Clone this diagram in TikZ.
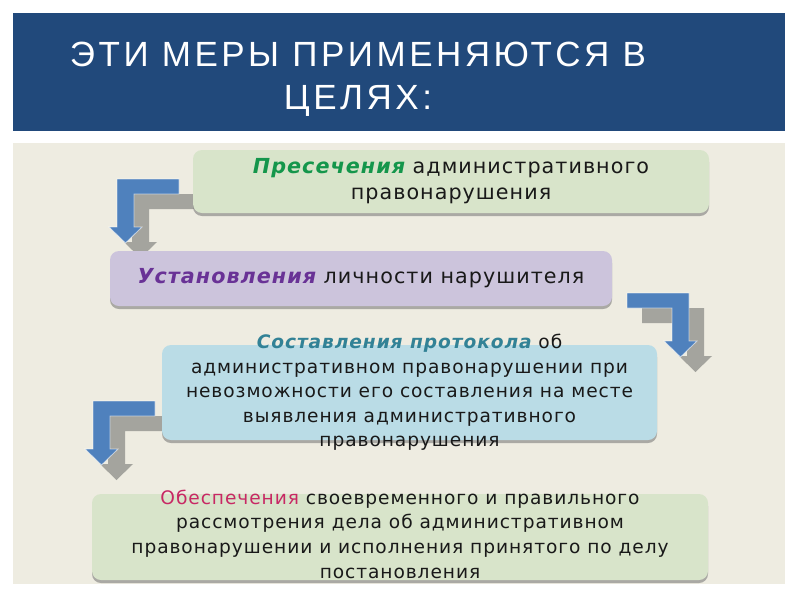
\documentclass[tikz,border=0pt]{standalone}
\usepackage{fontspec}
\setmainfont{DejaVu Sans}[LetterSpace=5]
\newfontfamily\titlefont{Liberation Sans}[LetterSpace=10]
\usepackage{xcolor}
\usepackage{tikz}
\usetikzlibrary{shadows}
\definecolor{band}{RGB}{33,73,123}
\definecolor{panel}{RGB}{238,236,225}
\definecolor{greenfill}{RGB}{216,228,202}
\definecolor{lilacfill}{RGB}{204,196,220}
\definecolor{bluefill}{RGB}{186,220,230}
\definecolor{arrowblue}{RGB}{79,129,189}
\definecolor{arrowgray}{RGB}{164,164,158}
\definecolor{wgreen}{RGB}{20,150,75}
\definecolor{wpurple}{RGB}{105,50,150}
\definecolor{wteal}{RGB}{50,130,150}
\definecolor{wpink}{RGB}{200,40,100}
\tikzstyle{box}=[shape=rectangle, rounded corners=9pt, inner sep=0pt,
  drop shadow={shadow xshift=0pt, shadow yshift=-3pt, fill=black!55, opacity=.55}]
\tikzstyle{green box}=[box, fill=greenfill]
\tikzstyle{lilac box}=[box, fill=lilacfill]
\tikzstyle{blue box}=[box, fill=bluefill]
\tikzstyle{big text}=[align=center, inner sep=0pt, text=black!90,
  font=\fontsize{20.7}{26}\selectfont]
\tikzstyle{small text}=[align=center, inner sep=0pt, text=black!90,
  font=\fontsize{18.6}{24.6}\selectfont]
\tikzstyle{title text}=[align=center, inner sep=0pt, text=white,
  font=\titlefont\fontsize{35}{43}\selectfont]
\tikzstyle{blue arrow}=[fill=arrowblue, draw=white, draw opacity=.6, line width=.8pt]
\tikzstyle{gray arrow}=[fill=arrowgray]
\newcommand{\key}[2]{\textbf{\textit{\color{#1}#2}}}
\pgfdeclarelayer{bglayer}
\pgfdeclarelayer{arrowlayer}
\pgfdeclarelayer{boxlayer}
\pgfsetlayers{bglayer,arrowlayer,boxlayer,main}

\begin{document}
\begin{tikzpicture}[x=1pt, y=-1pt]
        	\useasboundingbox (0,0) rectangle (800,600);
        	\begin{pgfonlayer}{bglayer}
        		\fill [band] (13,13) rectangle (785,131);
        		\fill [panel] (13,143) rectangle (785,584);
        	\end{pgfonlayer}
        	\begin{pgfonlayer}{arrowlayer}
        		% bent arrows: shadow first, then the blue one
        		\foreach \px/\py/\fl in {117/179/1, 689/293/-1, 93/401/1} {
        			\fill [gray arrow, shift={(\px+15,\py+15)}, xscale=\fl]
        				(0,0) -- (62,0) -- (62,15) -- (17,15) -- (17,48) -- (25,48)
        				-- (8.5,64) -- (-8,48) -- (0,48) -- cycle;
        			\filldraw [blue arrow, shift={(\px,\py)}, xscale=\fl]
        				(0,0) -- (62,0) -- (62,15) -- (17,15) -- (17,48) -- (25,48)
        				-- (8.5,64) -- (-8,48) -- (0,48) -- cycle;
        		}
        	\end{pgfonlayer}
        	\begin{pgfonlayer}{boxlayer}
        		\node [style=green box, minimum width=516pt, minimum height=63pt] (box1) at (451,181.5) {};
        		\node [style=lilac box, minimum width=502pt, minimum height=55pt] (box2) at (361,278.5) {};
        		\node [style=blue box, minimum width=495pt, minimum height=95pt] (box3) at (409.5,392.5) {};
        		\node [style=green box, minimum width=616pt, minimum height=86pt] (box4) at (400,537) {};
        	\end{pgfonlayer}
        	\node [style=title text] (title) at (358,79) {ЭТИ МЕРЫ ПРИМЕНЯЮТСЯ В\\ЦЕЛЯХ:};
        	\node [style=big text] (txt1) at (box1.center) {\key{wgreen}{Пресечения} административного\\правонарушения};
        	\node [style=big text] (txt2) at (box2.center) {\key{wpurple}{Установления} личности нарушителя};
        	\node [style=small text] (txt3) at (box3.center) {\key{wteal}{Составления протокола} об\\административном правонарушении при\\невозможности его составления на месте\\выявления административного\\правонарушения};
        	\node [style=small text] (txt4) at ([yshift=3pt]box4.center) {{\color{wpink}Обеспечения} своевременного и правильного\\рассмотрения дела об административном\\правонарушении и исполнения принятого по делу\\постановления};
\end{tikzpicture}
\end{document}
